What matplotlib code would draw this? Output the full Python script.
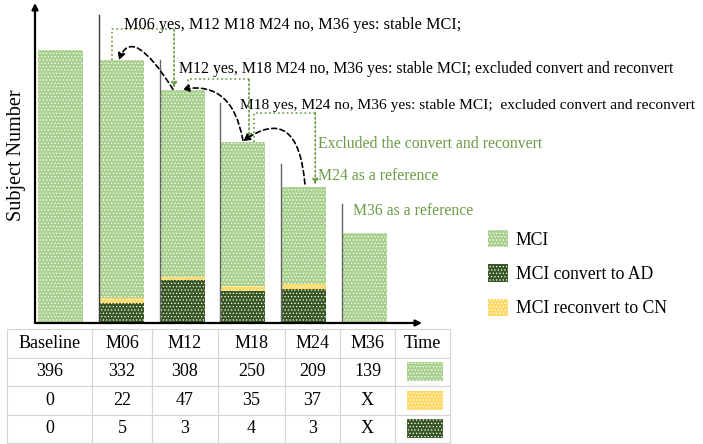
import matplotlib
matplotlib.use('Agg')
import matplotlib.pyplot as plt
from matplotlib.patches import Patch, Rectangle

plt.rcParams['font.family'] = ['Liberation Serif', 'DejaVu Serif']
plt.rcParams['hatch.linewidth'] = 0.5

# --- data ---
times = ['Baseline', 'M06', 'M12', 'M18', 'M24', 'M36']
# bar segment heights as drawn (not proportional to the table)
ad_bar = [0, 22, 47, 35, 37, 0]        # MCI convert to AD (dark, bottom)
cn_bar = [0, 6, 4, 6, 6, 0]            # MCI reconvert to CN (yellow)
mci_bar = [300, 261, 205, 158, 107, 99]  # MCI (light green, top)

# table contents
mci_n = ['396', '332', '308', '250', '209', '139']
row_yellow = ['0', '22', '47', '35', '37', 'X']
row_dark = ['0', '5', '3', '4', '3', 'X']

# thin separator lines at left edge of bars M06..M36, with their tops
sep_tops = [339, 289, 242, 175, 131]

notes = [
    'M06 yes, M12 M18 M24 no, M36 yes: stable MCI;',
    'M12 yes, M18 M24 no, M36 yes: stable MCI; excluded convert and reconvert',
    'M18 yes, M24 no, M36 yes: stable MCI;  excluded convert and reconvert',
]
green_notes = ['Excluded the convert and reconvert', 'M24 as a reference', 'M36 as a reference']

LIGHT = '#a9d08e'
DARK = '#385723'
YELLOW = '#ffd966'
TXTGREEN = '#6b9b45'

fig = plt.figure(figsize=(7.03, 4.44), dpi=100)
W, H = 703, 444

# main chart axes (pixel box: x 35..422, y 3..323)
ax = fig.add_axes([35 / W, (H - 323) / H, (422 - 35) / W, (323 - 3) / H])
ax.set_xlim(-0.42, 5.946)
ax.set_ylim(0, 352)
x = list(range(len(times)))
bw = 0.74
hatch = '.....'
ax.bar(x, ad_bar, bw, color=DARK, edgecolor='white', linewidth=0, hatch=hatch)
ax.bar(x, cn_bar, bw, bottom=ad_bar, color=YELLOW, edgecolor='white', linewidth=0, hatch=hatch)
bot2 = [a + c for a, c in zip(ad_bar, cn_bar)]
ax.bar(x, mci_bar, bw, bottom=bot2, color=LIGHT, edgecolor='white', linewidth=0, hatch=hatch)
tops = [b + m for b, m in zip(bot2, mci_bar)]

for i, t in enumerate(sep_tops):
    ax.plot([i + 1 - bw / 2] * 2, [0, t], color='#3a3a3a' if i == 0 else '#666666', lw=1)

for s in ['top', 'right', 'left', 'bottom']:
    ax.spines[s].set_visible(False)
ax.set_xticks([])
ax.set_yticks([])
ax.annotate('', xy=(0, 1), xytext=(0, 0), xycoords='axes fraction',
            arrowprops=dict(arrowstyle='-|>', color='black', lw=1.6, mutation_scale=9, shrinkA=0, shrinkB=0))
ax.annotate('', xy=(1, 0), xytext=(0, 0), xycoords='axes fraction',
            arrowprops=dict(arrowstyle='-|>', color='black', lw=1.6, mutation_scale=9, shrinkA=0, shrinkB=0))
fig.text(17 / W, 1 - 155 / H, 'Subject Number', rotation=90, ha='center', va='center', fontsize=14.5)

# black annotations
note_xy = [(1.05, 323), (1.95, 275), (2.96, 235)]
note_fs = [11.7, 11.3, 11.1]
for (tx, ty), s, fs in zip(note_xy, notes, note_fs):
    ax.text(tx, ty, s, fontsize=fs, va='baseline', ha='left', color='black')
gnote_xy = [(4.24, 192), (4.24, 157), (4.81, 119)]
for (tx, ty), s in zip(gnote_xy, green_notes):
    ax.text(tx, ty, s, fontsize=11.3, va='baseline', ha='left', color=TXTGREEN)

# green dotted brackets: start x, end x, top y, end y, bar index of start
brackets = [(0.847, 1.867, 323, 258.5, 1), (2.10, 3.10, 268, 201, 2), (3.18, 4.19, 231, 152, 3)]
for x0, x1, yt, ye, bi in brackets:
    ax.plot([x0, x0, x1], [tops[bi], yt, yt], ls=':', color=TXTGREEN, lw=1.2)
    ax.annotate('', xy=(x1, ye), xytext=(x1, yt),
                arrowprops=dict(arrowstyle='-|>', ls=':', color=TXTGREEN, lw=1.2,
                                mutation_scale=8, shrinkA=0, shrinkB=0))

# black dashed curved arrows: start, end, connection style
curves = [((1.85, 257), (0.96, 289), 'angle3,angleA=122,angleB=70'),
          ((3.0, 201), (2.0, 257), 'angle3,angleA=100,angleB=10'),
          ((4.02, 153), (3.0, 200), 'angle3,angleA=95,angleB=35')]
for st, en, cs in curves:
    ax.annotate('', xy=en, xytext=st,
                arrowprops=dict(arrowstyle='-|>', ls=(0, (3, 2)), color='black', lw=1.2,
                                mutation_scale=10, shrinkA=0, shrinkB=0, connectionstyle=cs))

# legend
handles = [Patch(facecolor=LIGHT, edgecolor='white', linewidth=0, hatch=hatch, label='MCI'),
           Patch(facecolor=DARK, edgecolor='white', linewidth=0, hatch=hatch, label='MCI convert to AD'),
           Patch(facecolor=YELLOW, edgecolor='white', linewidth=0, hatch=hatch, label='MCI reconvert to CN')]
fig.legend(handles=handles, loc='upper left', bbox_to_anchor=(488 / W, 1 - 230 / H),
           frameon=False, fontsize=12.7, handlelength=1.12, handleheight=1.12,
           handletextpad=0.45, labelspacing=0.9, borderpad=0, borderaxespad=0)

# table
tax = fig.add_axes([7 / W, 1 / H, (450 - 7) / W, (443 - 329) / H])
tax.axis('off')
col_w = [85, 60, 66, 67, 55, 55, 55]
tot = sum(col_w)
cells = [times + ['Time'], mci_n + [''], row_yellow + [''], row_dark + ['']]
tb = tax.table(cellText=cells, colWidths=[c / tot for c in col_w], bbox=[0, 0, 1, 1], cellLoc='center')
tb.auto_set_font_size(False)
tb.set_fontsize(13)
for cell in tb.get_celld().values():
    cell.set_edgecolor('#d4d4d4')
    cell.set_linewidth(0.8)
x_time = sum(col_w[:6]) / tot
sw_w = 36 / tot
sw_h = 0.25 * 0.68
for r, col in zip([1, 2, 3], [LIGHT, YELLOW, DARK]):
    yc = 1 - 0.25 * (r + 0.5)
    tax.add_patch(Rectangle((x_time + (col_w[6] / tot - sw_w) / 2 + 2 / tot, yc - sw_h / 2), sw_w, sw_h,
                            facecolor=col, edgecolor='white', linewidth=0, hatch=hatch,
                            transform=tax.transAxes, zorder=5))

fig.savefig('out.png', dpi=100)
